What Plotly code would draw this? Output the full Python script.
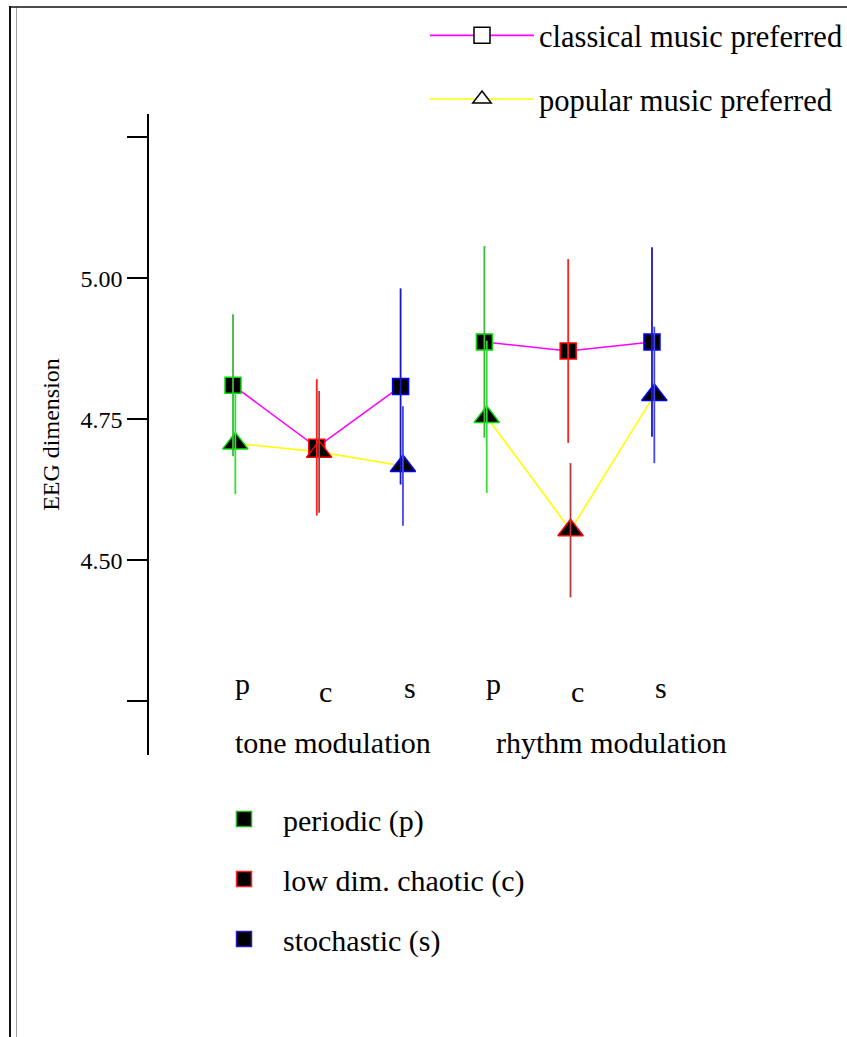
import plotly.graph_objects as go

# ---------------- data ----------------
categories = ['p', 'c', 's', 'p', 'c', 's']
conditions = ['tone modulation', 'tone modulation', 'tone modulation',
              'rhythm modulation', 'rhythm modulation', 'rhythm modulation']
category_letters = ['p', 'c', 's']
category_names = ['periodic (p)', 'low dim. chaotic (c)', 'stochastic (s)']
series_names = ['classical music preferred', 'popular music preferred']
classical_mean = [4.810, 4.700, 4.808, 4.887, 4.871, 4.887]
classical_err = [0.126, 0.121, 0.174, 0.170, 0.163, 0.168]
popular_mean = [4.707, 4.692, 4.667, 4.754, 4.553, 4.793]
popular_err = [0.090, 0.108, 0.106, 0.135, 0.119, 0.121]
y_tick_values = [4.25, 4.50, 4.75, 5.00, 5.25]
y_tick_labels = ['', '4.50', '4.75', '5.00', '']

# ---------------- style ----------------
W, H = 847, 1037
ML, MR, MT, MB = 149, 147, 114, 282
FONT = 'Liberation Serif'
PW, PH = W - ML - MR, H - MT - MB


def px_x(p):
    return (p - ML) / PW


def px_y(p):
    return (H - MB - p) / PH


outline = {'p': '#00e000', 'c': '#ff0000', 's': '#0000ff'}
legend_outline = {'p': '#1fae1f', 'c': '#ff2020', 's': '#2020c8'}
err_colors = [
    {'p': '#3cb83c', 'c': '#ff2020', 's': '#1818c0'},
    {'p': '#33e033', 'c': '#b83838', 's': '#4646e6'},
]
line_colors = ['#ff00ff', '#ffff00']
symbols = ['square', 'triangle-up']
sizes = [16, 22]
offsets = [0.0, 0.028]

xpos = list(range(len(categories)))
means = [classical_mean, popular_mean]
errs = [classical_err, popular_err]

fig = go.Figure()

cond_order = []
for c in conditions:
    if c not in cond_order:
        cond_order.append(c)

# connecting lines (under everything)
for s in range(2):
    for cond in cond_order:
        idx = [i for i, c in enumerate(conditions) if c == cond]
        fig.add_trace(go.Scatter(
            x=[xpos[i] + offsets[s] for i in idx],
            y=[means[s][i] for i in idx],
            mode='lines', line=dict(color=line_colors[s], width=1.6),
            showlegend=False, hoverinfo='skip'))

# markers
for s in range(2):
    fig.add_trace(go.Scatter(
        x=[x + offsets[s] for x in xpos], y=means[s], mode='markers',
        marker=dict(symbol=symbols[s], size=sizes[s], color='black',
                    line=dict(color=[outline[c] for c in categories], width=1.5)),
        showlegend=False, name=series_names[s]))

# error bars on top
for s in range(2):
    for letter in category_letters:
        idx = [i for i, c in enumerate(categories) if c == letter]
        fig.add_trace(go.Scatter(
            x=[xpos[i] + offsets[s] for i in idx],
            y=[means[s][i] for i in idx],
            mode='markers', marker=dict(size=2, color='rgba(0,0,0,0)'),
            error_y=dict(type='data', array=[errs[s][i] for i in idx],
                         color=err_colors[s][letter], thickness=1.8, width=0),
            showlegend=False, hoverinfo='skip'))

# legend entries: series
for s in range(2):
    fig.add_trace(go.Scatter(
        x=[None], y=[None], mode='lines+markers', name=series_names[s],
        line=dict(color=line_colors[s], width=1.6),
        marker=dict(symbol=symbols[s], size=16, color='white',
                    line=dict(color='black', width=1.5)),
        legend='legend', legendgroup='s%d' % s))

# legend entries: categories
for k, letter in enumerate(category_letters):
    fig.add_trace(go.Scatter(
        x=[None], y=[None], mode='markers', name=category_names[k],
        marker=dict(symbol='square', size=15, color='black',
                    line=dict(color=legend_outline[letter], width=1.5)),
        legend='legend2', legendgroup='c%d' % k))

annotations = []
label_dy = {'p': 0, 'c': -8, 's': -4}
for i, c in enumerate(categories):
    annotations.append(dict(
        x=xpos[i], y=px_y(683), xref='x', yref='paper', text=c,
        showarrow=False, xanchor='center', yanchor='middle',
        xshift=9, yshift=label_dy[c],
        font=dict(family=FONT, size=30, color='black')))
for cond in cond_order:
    first = conditions.index(cond)
    annotations.append(dict(
        x=xpos[first], y=px_y(742), xref='x', yref='paper', text=cond,
        showarrow=False, xanchor='left', yanchor='middle',
        xshift=0 if first == 0 else 10,
        font=dict(family=FONT, size=30, color='black')))

shapes = [
    dict(type='line', xref='paper', yref='paper', x0=px_x(10), x1=px_x(10),
         y0=px_y(6), y1=px_y(H + 2), line=dict(color='#111111', width=2)),
    dict(type='line', xref='paper', yref='paper', x0=px_x(16.5), x1=px_x(16.5),
         y0=px_y(7), y1=px_y(H + 2), line=dict(color='#a0a0a0', width=1)),
    dict(type='line', xref='paper', yref='paper', x0=px_x(9), x1=px_x(W + 2),
         y0=px_y(7), y1=px_y(7), line=dict(color='#111111', width=1.6)),
]

fig.update_layout(
    width=W, height=H,
    margin=dict(l=ML, r=MR, t=MT, b=MB, pad=0, autoexpand=False),
    paper_bgcolor='white', plot_bgcolor='white',
    font=dict(family=FONT, color='black'),
    xaxis=dict(range=[-1.0024, 5.573], visible=False),
    yaxis=dict(range=[4.1543, 5.2913], tickvals=y_tick_values,
               ticktext=y_tick_labels, ticks='outside', ticklen=20,
               tickwidth=1.5, tickcolor='black', showline=True,
               linecolor='black', linewidth=1.6, showgrid=False,
               zeroline=False, tickfont=dict(family=FONT, size=24),
               title=dict(text='EEG dimension', standoff=14,
                          font=dict(family=FONT, size=24))),
    legend=dict(x=px_x(425), y=px_y(9), xanchor='left', yanchor='top',
                font=dict(family=FONT, size=30.5, color='black'),
                itemwidth=104, tracegroupgap=21, traceorder='grouped',
                bgcolor='rgba(0,0,0,0)'),
    legend2=dict(x=px_x(205), y=px_y(793), xanchor='left', yanchor='top',
                 font=dict(family=FONT, size=30, color='black'),
                 itemwidth=68, tracegroupgap=18, traceorder='grouped',
                 bgcolor='rgba(0,0,0,0)'),
    annotations=annotations, shapes=shapes, showlegend=True,
)

fig.write_html('out.html')
